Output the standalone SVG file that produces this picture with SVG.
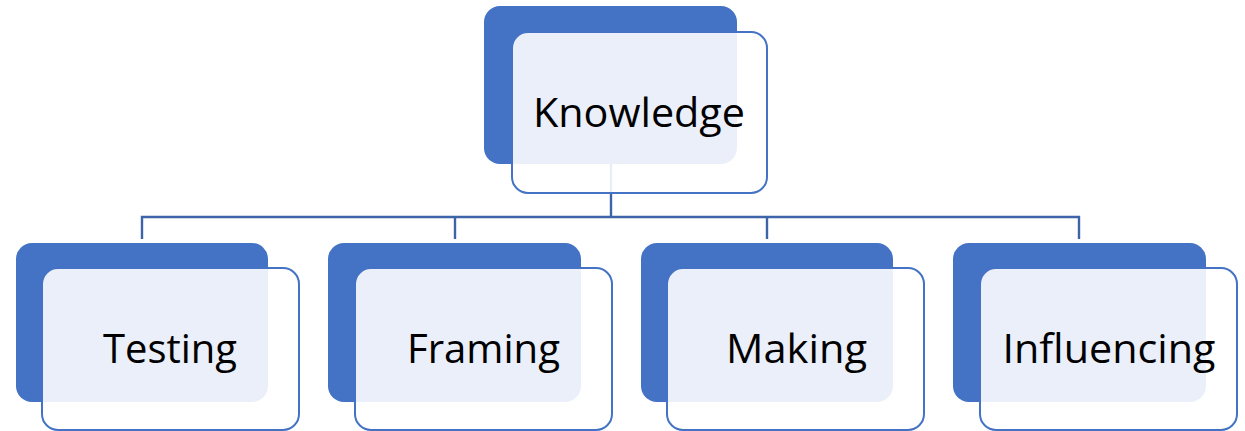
<svg xmlns="http://www.w3.org/2000/svg" width="1245" height="431" viewBox="0 0 1245 431">
  <style>
    .back { fill: #4472C4; }
    .front { fill: #FFFFFF; fill-opacity: 0.89; stroke: #4472C4; stroke-width: 2; }
    .link { fill: none; stroke: #3D63A8; stroke-width: 2.4; }
    .label { font-family: "Open Sans", "Liberation Sans", sans-serif; font-size: 41px; fill: #000000; text-anchor: middle; }
  </style>
  <rect width="1245" height="431" fill="#FFFFFF"/>

  <!-- tree connectors -->
  <g id="connectors">
    <path class="link" d="M611,164 V217"/>
    <path class="link" d="M142,239 V217 H1079 V239"/>
    <path class="link" d="M455,217 V239"/>
    <path class="link" d="M767,217 V239"/>
  </g>

  <g id="knowledge">
    <rect class="back" x="484" y="6" width="253" height="158" rx="16"/>
    <rect class="front" x="512" y="32" width="255" height="161" rx="16"/>
    <text class="label" x="639" y="127" textLength="212" lengthAdjust="spacingAndGlyphs">Knowledge</text>
  </g>

  <g id="testing">
    <rect class="back" x="16" y="243" width="252" height="159" rx="16"/>
    <rect class="front" x="42" y="268" width="257" height="162" rx="16"/>
    <text class="label" x="170" y="363" textLength="134" lengthAdjust="spacingAndGlyphs">Testing</text>
  </g>

  <g id="framing">
    <rect class="back" x="328" y="243" width="253" height="159" rx="16"/>
    <rect class="front" x="355" y="268" width="257" height="162" rx="16"/>
    <text class="label" x="483.5" y="363" textLength="153" lengthAdjust="spacingAndGlyphs">Framing</text>
  </g>

  <g id="making">
    <rect class="back" x="641" y="243" width="252" height="159" rx="16"/>
    <rect class="front" x="667" y="268" width="257" height="162" rx="16"/>
    <text class="label" x="796.5" y="363" textLength="141" lengthAdjust="spacingAndGlyphs">Making</text>
  </g>

  <g id="influencing">
    <rect class="back" x="953" y="243" width="253" height="159" rx="16"/>
    <rect class="front" x="980" y="268" width="257" height="162" rx="16"/>
    <text class="label" x="1109" y="363" textLength="213" lengthAdjust="spacingAndGlyphs">Influencing</text>
  </g>
</svg>
